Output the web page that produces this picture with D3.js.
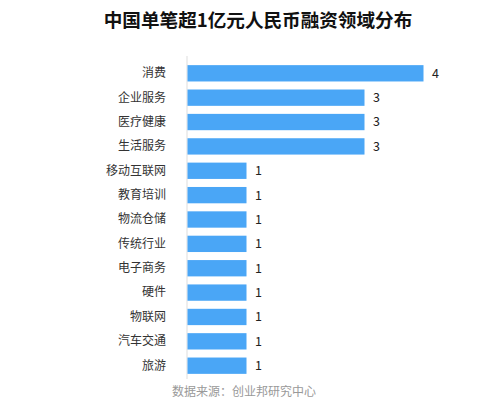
<!DOCTYPE html>
<html>
<head>
<meta charset="utf-8">
<script src="https://cdn.jsdelivr.net/npm/d3@7"></script>
<style>
  body { margin: 0; background: #fff; }
  text { font-family: "Noto Sans CJK SC", "Microsoft YaHei", sans-serif; }
</style>
</head>
<body>
<main></main>
<script>
// 数据
const categories = ['消费', '企业服务', '医疗健康', '生活服务', '移动互联网', '教育培训', '物流仓储',
    '传统行业', '电子商务', '硬件', '物联网', '汽车交通', '旅游'];
const values = [4, 3, 3, 3, 1, 1, 1, 1, 1, 1, 1, 1, 1];
const title = '中国单笔超1亿元人民币融资领域分布';
const source = '数据来源：创业邦研究中心';

const svgWidth = 493, svgHeight = 417;
const margin = { top: 61, left: 187, bottom: 37 };

const svg = d3.select('main').append('svg')
    .attr('width', svgWidth)
    .attr('height', svgHeight);

// 标题
svg.append('text')
    .attr('x', 258)
    .attr('y', 27)
    .attr('text-anchor', 'middle')
    .attr('font-size', 18.6)
    .attr('font-weight', 'bold')
    .attr('fill', '#111')
    .text(title);

// 比例尺
const xScale = d3.scaleLinear()
    .domain([0, 4])
    .range([margin.left, margin.left + 236]);

const yScale = d3.scaleBand()
    .domain(categories)
    .range([margin.top, svgHeight - margin.bottom - 2])
    .paddingInner(0.33)
    .paddingOuter(0.17);

// 纵轴
const yAxis = svg.append('g')
    .attr('transform', `translate(${margin.left},0)`)
    .call(d3.axisLeft(yScale).tickSize(0).tickPadding(21));
yAxis.select('.domain')
    .attr('stroke', '#ddd')
    .attr('d', `M0,${margin.top - 5}V${svgHeight - margin.bottom - 1}`);
yAxis.selectAll('text')
    .attr('font-size', 12)
    .attr('fill', '#333')
    .style('font-family', '"Noto Sans CJK SC", sans-serif');

// 条形
svg.selectAll('.bar')
    .data(values)
    .enter()
    .append('rect')
    .attr('class', 'bar')
    .attr('x', xScale(0) + 0.5)
    .attr('y', (d, i) => yScale(categories[i]))
    .attr('width', d => xScale(d) - xScale(0))
    .attr('height', yScale.bandwidth())
    .attr('fill', '#4aa6f6');

// 数值
svg.selectAll('.val')
    .data(values)
    .enter()
    .append('text')
    .attr('class', 'val')
    .attr('x', d => xScale(d) + 9)
    .attr('y', (d, i) => yScale(categories[i]) + yScale.bandwidth() / 2)
    .attr('dy', '0.35em')
    .attr('font-size', 12.5)
    .attr('fill', '#222')
    .text(d => d);

// 数据来源
svg.append('text')
    .attr('x', 244)
    .attr('y', 396)
    .attr('text-anchor', 'middle')
    .attr('font-size', 12)
    .attr('fill', '#999')
    .text(source);
</script>
</body>
</html>
